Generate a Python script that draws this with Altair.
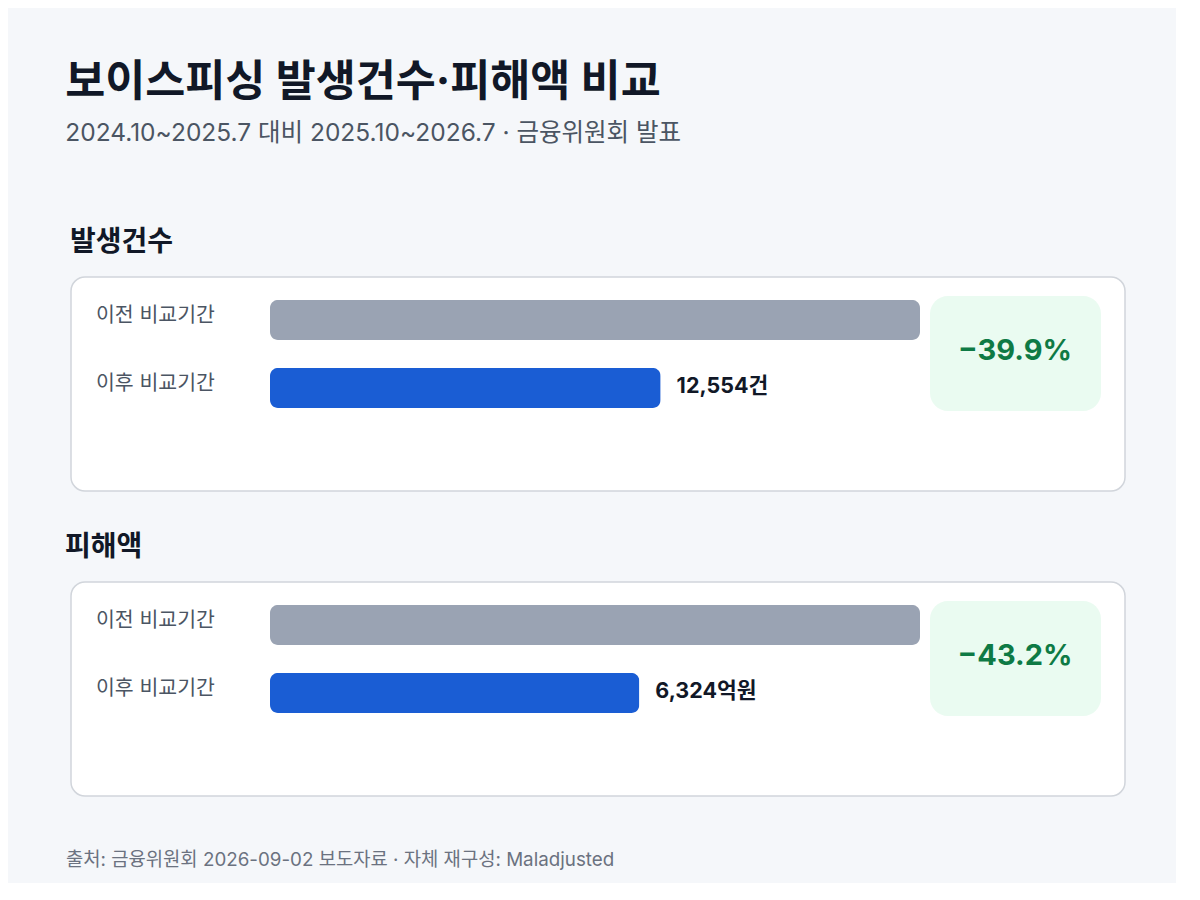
import altair as alt
import pandas as pd

# ---- data -------------------------------------------------------------
METRICS = ["발생건수", "피해액"]
PERIODS = ["이전 비교기간", "이후 비교기간"]
BEFORE = [20890, 11130]      # (not labelled)
AFTER = [12554, 6324]
UNITS = ["건", "억원"]
CHANGE = [-39.9, -43.2]

TITLE = "보이스피싱 발생건수·피해액 비교"
SUBTITLE = "2024.10~2025.7 대비 2025.10~2026.7 · 금융위원회 발표"
FOOTER = "출처: 금융위원회 2026-09-02 보도자료 · 자체 재구성: Maladjusted"

FONT = "Inter, 'Noto Sans CJK KR', sans-serif"
BG = "#f5f7fa"
CARD_W, CARD_H = 1054, 214


def panel(i, footer=False):
    df = pd.DataFrame({
        "period": PERIODS,
        "value": [BEFORE[i], AFTER[i]],
    })
    df["label"] = [f"{v:,}{UNITS[i]}" for v in df["value"]]
    badge = pd.DataFrame({"change": [f"−{abs(CHANGE[i]):.1f}%"]})

    yscale = alt.Scale(domain=PERIODS, range=[9, 145],
                       paddingInner=0.41, paddingOuter=0.205)
    xscale = alt.Scale(domain=[0, BEFORE[i]], range=[199, 849])
    y = alt.Y("period:N", scale=yscale, axis=None)

    base = alt.Chart(df)
    bars = base.mark_bar(cornerRadius=8).encode(
        x=alt.X("value:Q", scale=xscale, axis=None),
        y=y,
        color=alt.Color("period:N",
                        scale=alt.Scale(domain=PERIODS, range=["#9aa3b3", "#1a5dd4"]),
                        legend=None),
    )
    rowlab = base.mark_text(align="left", baseline="middle", dy=-4,
                            font=FONT, fontSize=20.5, color="#4b5563").encode(
        x=alt.value(25), y=y, text="period:N")
    vallab = base.transform_filter(
        alt.datum.period == PERIODS[1]
    ).mark_text(align="left", baseline="middle", dx=16, dy=-1,
                font=FONT, fontSize=21.5, fontWeight="bold", color="#111827").encode(
        x=alt.X("value:Q", scale=xscale), y=y, text="label:N")

    bchart = alt.Chart(badge)
    brect = bchart.mark_rect(cornerRadius=18, color="#eafbf1").encode(
        x=alt.value(859), x2=alt.value(1030), y=alt.value(19), y2=alt.value(134))
    btext = bchart.mark_text(align="center", baseline="middle", font=FONT,
                             fontSize=29, fontWeight="bold", color="#0e7a45").encode(
        x=alt.value(944), y=alt.value(74), text="change:N")

    layers = [brect, btext, bars, rowlab, vallab]
    if footer:
        ftxt = bchart.mark_text(align="left", baseline="middle", font=FONT,
                                fontSize=18.8, color="#6b7280").encode(
            x=alt.value(-5), y=alt.value(278), text=alt.value(FOOTER))
        layers.append(ftxt)

    return alt.layer(*layers).properties(
        width=CARD_W, height=CARD_H,
        title=alt.TitleParams(METRICS[i], anchor="start", font=FONT, fontSize=28,
                              fontWeight="bold", color="#111827", offset=20, dx=-1),
    )


chart = alt.vconcat(panel(0), panel(1, footer=True), spacing=41).properties(
    title=alt.TitleParams(TITLE, subtitle=SUBTITLE, anchor="start", font=FONT,
                          fontSize=43.5, fontWeight="bold", color="#111827",
                          subtitleFont=FONT, subtitleFontSize=24.5,
                          subtitleColor="#4b5563", subtitlePadding=16,
                          offset=82, dx=1),
    padding={"left": 56, "top": 53, "right": 50, "bottom": 12},
    background=BG,
).configure_view(
    fill="white", stroke="#d1d5db", strokeWidth=1.5, cornerRadius=14,
)

chart.save("out.html", embed_options={"renderer": "svg", "actions": False})
